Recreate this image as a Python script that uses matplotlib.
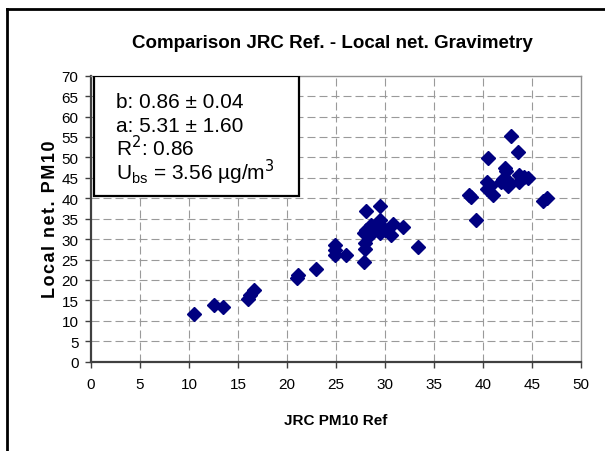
import matplotlib
matplotlib.use("Agg")
import matplotlib.pyplot as plt
from matplotlib.patches import Rectangle
from matplotlib.lines import Line2D

plt.rcParams['font.family'] = ['Liberation Sans', 'DejaVu Sans']

# Data
jrc_ref = [10.5, 12.5, 13.5, 16.0, 16.2, 16.6, 21.0, 21.1, 23.0,
           24.85, 24.85, 24.85, 26.0, 27.9, 28.0, 28.0, 28.1, 29.5,
           28.1, 27.9, 28.6, 29.5, 29.5, 29.5, 30.6, 30.8, 31.8, 33.4,
           28.5, 29.2, 30.0,
           38.6, 38.8, 39.3, 40.5, 42.85, 43.6, 42.2, 42.3, 40.4, 40.4,
           41.0, 41.8, 42.6, 42.6, 43.7, 43.7, 44.2, 44.6, 46.1, 46.5,
           40.7, 42.0]
local_net = [11.6, 13.8, 13.5, 15.4, 16.4, 17.6, 20.6, 21.1, 22.7,
             28.6, 27.3, 26.0, 26.0, 24.3, 27.5, 29.0, 36.9, 38.0,
             32.3, 31.4, 33.4, 34.8, 33.4, 31.5, 31.0, 33.8, 32.9, 28.0,
             31.0, 32.6, 32.2,
             40.9, 40.3, 34.6, 49.9, 55.2, 51.3, 47.4, 46.6, 44.1, 42.3,
             40.8, 43.9, 44.3, 43.1, 45.6, 43.9, 45.2, 44.9, 39.4, 40.1,
             43.0, 44.8]

x_ticks = list(range(0, 51, 5))
y_ticks = list(range(0, 71, 5))

title = "Comparison JRC Ref. - Local net. Gravimetry"
x_label = "JRC PM10 Ref"
y_label = "Local net. PM10"
stats_lines = ["b: 0.86 \u00b1 0.04", "a: 5.31 \u00b1 1.60",
               "R$^2$: 0.86", "U$_{\\mathregular{bs}}$ = 3.56 \u00b5g/m$^3$"]

fig = plt.figure(figsize=(6.05, 4.52), dpi=100)
ax = fig.add_axes([91/605, 1-362.7/452, 490/605, 286/452])

ax.set_xlim(0, 50)
ax.set_ylim(0, 70)
ax.set_xticks(x_ticks)
ax.set_yticks(y_ticks)
ax.tick_params(axis='both', direction='out', length=4, width=1,
               colors='#404040', labelcolor='black', labelsize=11)
ax.tick_params(axis='x', pad=7)
ax.tick_params(axis='y', pad=5)

for x in x_ticks[1:-1]:
    ax.axvline(x, color='#9a9a9a', lw=0.8, ls=(0, (7.2, 3.6)), zorder=0)
for y in y_ticks[1:-1]:
    ax.axhline(y, color='#9a9a9a', lw=0.8, ls=(0, (7.2, 3.6)), zorder=0)

for s in ['top', 'right']:
    ax.spines[s].set_color('#909090')
    ax.spines[s].set_linewidth(1)
for s in ['left', 'bottom']:
    ax.spines[s].set_color('#404040')
    ax.spines[s].set_linewidth(1.6)

ax.plot(jrc_ref, local_net, ls='none', marker='D', ms=7,
        color='#000080', mec='#000080', zorder=3, clip_on=False)

ax.add_patch(Rectangle((0.3, 40.5), 20.9, 29.5, facecolor='white',
                       edgecolor='black', lw=1.6, zorder=4))
for i, line in enumerate(stats_lines):
    ax.text(2.55, 62.3 - i * 5.87, line, fontsize=15, va='baseline',
            ha='left', zorder=5)

fig.text(0.549, 1-43/452, title, fontsize=13.5, fontweight='bold',
         ha='center', va='center')
ax.set_xlabel(x_label, fontsize=11, fontweight='bold', labelpad=16)
ax.set_ylabel("\u200a".join(y_label), fontsize=13, fontweight='bold',
              labelpad=2)

fig.add_artist(Line2D([7/605, 7/605], [0, 1-10/452], color='black',
                      lw=2, transform=fig.transFigure))
fig.add_artist(Line2D([7/605, 1], [1-10/452, 1-10/452], color='black',
                      lw=2, transform=fig.transFigure))

fig.savefig("out.png", dpi=100)
